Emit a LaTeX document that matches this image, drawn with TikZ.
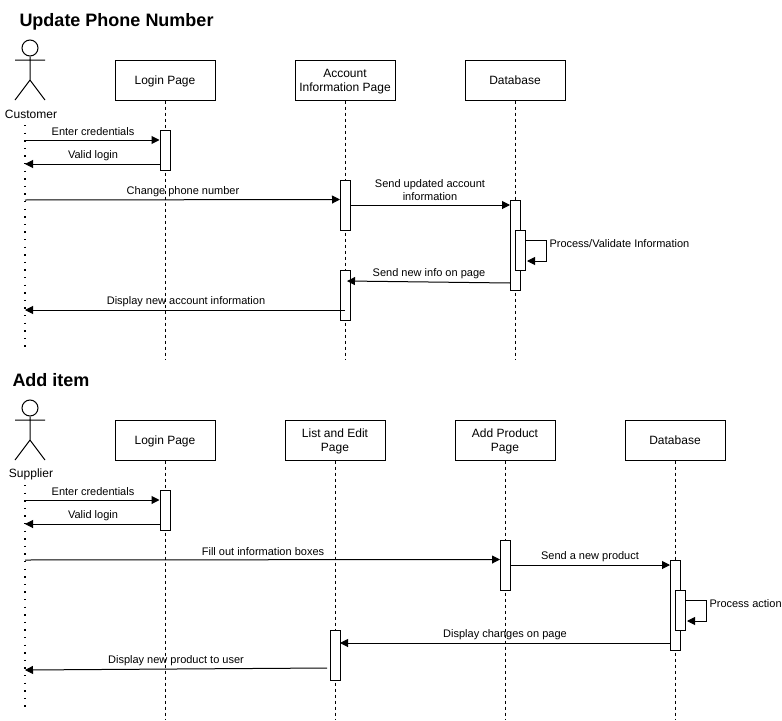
\documentclass[tikz,border=0pt]{standalone}
\usepackage{fontspec}
\setmainfont{Liberation Sans}
\usetikzlibrary{arrows.meta}

\begin{document}
\begin{tikzpicture}[
  x=0.75pt, y=-0.75pt, line width=0.75pt,
  title/.style={font=\fontsize{13.5}{16}\selectfont\bfseries, anchor=west, inner sep=0pt},
  lbl/.style={font=\fontsize{8.25}{9.75}\selectfont, inner sep=0pt, align=center, yshift=-0.6pt},
  who/.style={font=\fontsize{9}{11}\selectfont, inner sep=0pt, yshift=-1.1pt},
  head/.style={draw, minimum width=75pt, minimum height=30pt, inner sep=0pt, align=center, text depth=0pt, font=\fontsize{9}{10.5}\selectfont},
  bar/.style={draw, fill=white, minimum width=7.5pt, inner sep=0pt},
  life/.style={dash pattern=on 2.25pt off 2.25pt},
  dots/.style={line width=1.1pt, dash pattern=on 1.1pt off 4.6pt},
  msg/.style={-{Triangle[length=6pt, width=6pt]}}]
\useasboundingbox (0,0) rectangle (782,721);

\node[title] (t1) at (19,22) {Update Phone Number};
\node[circle, draw, minimum size=12pt, inner sep=0pt] (a1) at (30,48) {};
\coordinate (a1hip) at (30,80);
\coordinate (a1arml) at (15,60);
\coordinate (a1armr) at (45,60);
\coordinate (a1legl) at (15,100);
\coordinate (a1legr) at (45,100);
\draw (a1) -- (a1hip) (a1arml) -- (a1armr) (a1legl) -- (a1hip) -- (a1legr);
\node[who] (cust) at (31,113) {Customer};
\coordinate (c0) at (25,125);
\coordinate (c9) at (25,352);
\draw[dots] (c0) -- (c9);

\node[head] (login1) at (165,80) {Login Page};
\node[head] (acct)   at (345,80) {Account\\Information Page};
\node[head] (db1)    at (515,80) {Database};
\coordinate (login1e) at (165,360);
\coordinate (accte)   at (345,360);
\coordinate (db1e)    at (515,360);
\draw[life] (login1) -- (login1e);
\draw[life] (acct) -- (accte);
\draw[life] (db1) -- (db1e);

\node[bar, minimum height=30pt]   (b1)  at (165,150) {};
\node[bar, minimum height=37.5pt] (b2)  at (345,205) {};
\node[bar, minimum height=37.5pt] (b3)  at (345,295) {};
\node[bar, minimum height=67.5pt] (b4)  at (515,245) {};
\node[bar, minimum height=30pt]   (b5)  at (520,250) {};

\coordinate (c1) at (25,140);
\coordinate (c2) at (25,164);
\coordinate (c3) at (25,200);
\coordinate (c4) at (25,310);
\coordinate (b2i) at (340,199.5);
\coordinate (b2o) at (350,205);
\coordinate (b3c) at (345,310);
\coordinate (b4i) at (510,205);
\coordinate (b4o) at (510,283);
\coordinate (b3i) at (347,281);
\coordinate (s1a) at (525,240);
\coordinate (s1b) at (546,240);
\coordinate (s1c) at (546,261);
\coordinate (s1d) at (527,261);
\draw[msg] (c1) -- (c1 -| b1.west);
\draw[msg] (c2 -| b1.west) -- (c2);
\draw[msg] (c3) -- (b2i);
\draw[msg] (b2o) -- (b4i);
\draw[msg] (s1a) -- (s1b) -- (s1c) -- (s1d);
\draw[msg] (b4o) -- (b3i);
\draw[msg] (b3c) -- (c4);

\node[lbl] (m1) at (93,131)  {Enter credentials};
\node[lbl] (m2) at (93,155)  {Valid login};
\node[lbl] (m3) at (183,191) {Change phone number};
\node[lbl] (m4) at (430,189) {Send updated account\\information};
\node[lbl, anchor=west] (m5) at (549,243) {Process/Validate Information};
\node[lbl] (m6) at (429,273) {Send new info on page};
\node[lbl] (m7) at (186,301) {Display new account information};

\node[title] (t2) at (12,380) {Add item};
\node[circle, draw, minimum size=12pt, inner sep=0pt] (a2) at (30,408) {};
\coordinate (a2hip) at (30,440);
\coordinate (a2arml) at (15,420);
\coordinate (a2armr) at (45,420);
\coordinate (a2legl) at (15,460);
\coordinate (a2legr) at (45,460);
\draw (a2) -- (a2hip) (a2arml) -- (a2armr) (a2legl) -- (a2hip) -- (a2legr);
\node[who] (supp) at (31,473) {Supplier};
\coordinate (d0) at (25,485);
\coordinate (d9) at (25,712);
\draw[dots] (d0) -- (d9);

\node[head] (login2) at (165,440) {Login Page};
\node[head] (list)   at (335,440) {List and Edit\\Page};
\node[head] (add)    at (505,440) {Add Product\\Page};
\node[head] (db2)    at (675,440) {Database};
\coordinate (login2e) at (165,720);
\coordinate (liste)   at (335,720);
\coordinate (adde)    at (505,720);
\coordinate (db2e)    at (675,720);
\draw[life] (login2) -- (login2e);
\draw[life] (list) -- (liste);
\draw[life] (add) -- (adde);
\draw[life] (db2) -- (db2e);

\node[bar, minimum height=30pt]   (e1) at (165,510) {};
\node[bar, minimum height=37.5pt] (e2) at (505,565) {};
\node[bar, minimum height=67.5pt] (e3) at (675,605) {};
\node[bar, minimum height=30pt]   (e4) at (680,610) {};
\node[bar, minimum height=37.5pt] (e5) at (335,655) {};

\coordinate (d1) at (25,500);
\coordinate (d2) at (25,524);
\coordinate (d3) at (25,560);
\coordinate (d4) at (25,670);
\coordinate (e2i) at (500,559.5);
\coordinate (e2o) at (510,565);
\coordinate (e3i) at (670,565);
\coordinate (e3o) at (670,643);
\coordinate (e5i) at (340,643);
\coordinate (e5o) at (327,668);
\coordinate (s2a) at (685,600);
\coordinate (s2b) at (706,600);
\coordinate (s2c) at (706,621);
\coordinate (s2d) at (687,621);
\draw[msg] (d1) -- (d1 -| e1.west);
\draw[msg] (d2 -| e1.west) -- (d2);
\draw[msg] (d3) -- (e2i);
\draw[msg] (e2o) -- (e3i);
\draw[msg] (s2a) -- (s2b) -- (s2c) -- (s2d);
\draw[msg] (e3o) -- (e5i);
\draw[msg] (e5o) -- (d4);

\node[lbl] (n1) at (93,491)  {Enter credentials};
\node[lbl] (n2) at (93,515)  {Valid login};
\node[lbl] (n3) at (263,551) {Fill out information boxes};
\node[lbl] (n4) at (590,556) {Send a new product};
\node[lbl, anchor=west] (n5) at (709,603) {Process action};
\node[lbl] (n6) at (505,634) {Display changes on page};
\node[lbl] (n7) at (176,660) {Display new product to user};
\end{tikzpicture}
\end{document}
